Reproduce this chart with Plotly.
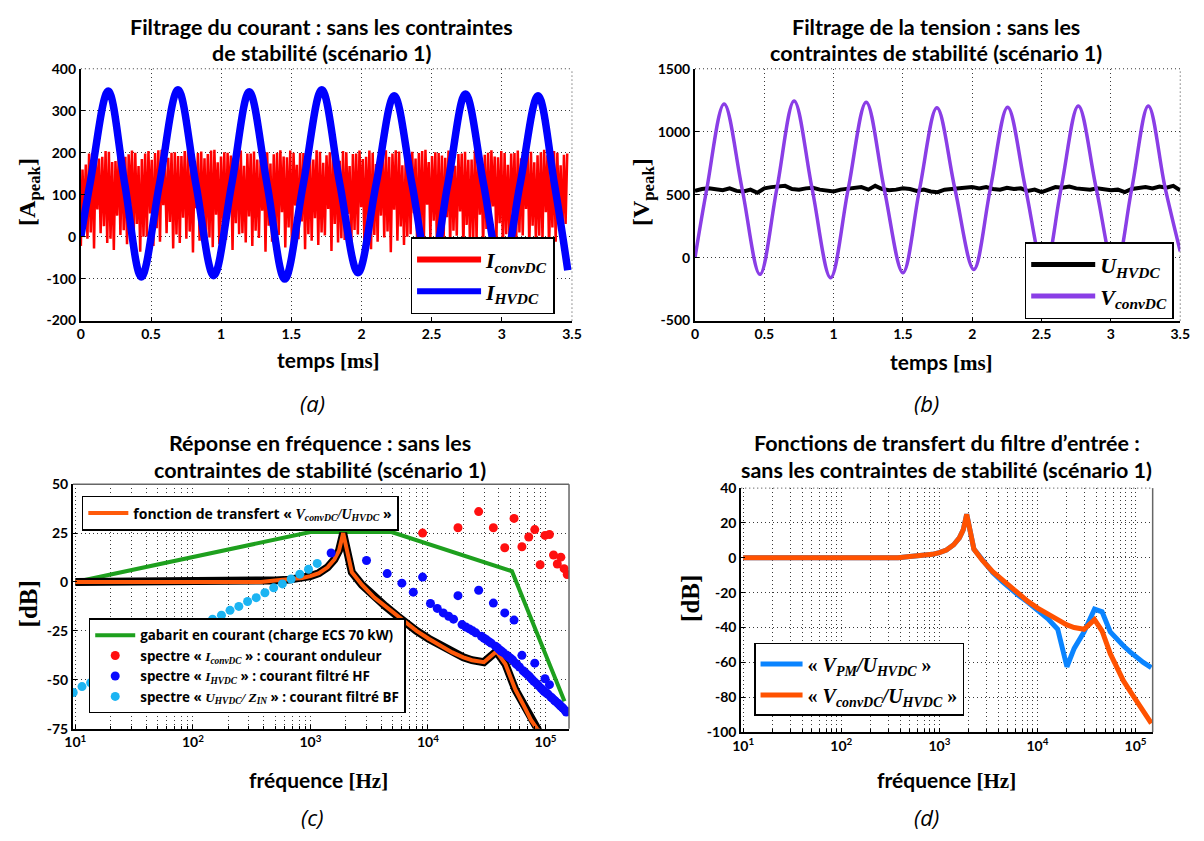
import plotly.graph_objects as go

W, H = 1204, 841

# ---------------- DATA ----------------
# (a) current filtering, time in ms
i_hvdc_t = [0, 0.07, 0.195, 0.313, 0.431, 0.56, 0.692, 0.82, 0.947, 1.075, 1.2, 1.327, 1.453,
            1.585, 1.717, 1.846, 1.975, 2.104, 2.233, 2.36, 2.49, 2.615, 2.741, 2.87, 3.0,
            3.13, 3.258, 3.375, 3.47]
i_hvdc = [0, 135, 347, 125, -96, 125, 350, 125, -93, 125, 345, 125, -101,
          125, 350, 125, -86, 125, 336, 125, -90, 125, 340, 125, -90,
          125, 336, 125, -80]
i_conv_step = 0.047  # ms per switching tooth
i_conv_lo = [-22, -5, -28, 8, -15, -32, 4, -18, -10, -36,
             0, -22, -12, 8, -28, -15, -5, -38, -10, 2,
             -25, -18, -8, -32, 6, -14, -22, -3, -36, -12,
             4, -26, -16, -6, -30, -10, -20, 3, -34, -14,
             -8, -24, 5, -18, -30, -12, -2, -37, -10, -20,
             6, -28, -15, -5, -33, -12, -22, 2, -30, -16,
             -8, -26, 4, -18, -34, -10, -20, 3, -28, -14,
             -6, -36, -12, -5]
i_conv_hi = [160, 198, 205, 190, 202, 180, 206, 196, 200, 185,
             204, 199, 207, 188, 201, 192, 205, 178, 203, 197,
             207, 191, 200, 186, 205, 198, 203, 182, 201, 196,
             206, 189, 200, 199, 205, 184, 202, 194, 207, 181,
             201, 197, 205, 190, 200, 187, 206, 198, 203, 183,
             202, 199, 207, 192, 199, 188, 205, 197, 202, 184,
             201, 195, 206, 189, 199, 198, 205, 186, 202, 194,
             207, 182, 200, 195]
i_conv_dip = [40, 10, 65, 25, -5, 50, 15, 70, 30, 0,
              55, 20, 75, 35, 5, 45, 12, 68, 28, -2,
              52, 18, 72, 32, 8, 48, 14, 62, 26, 2,
              58, 22, 74, 36, 6, 44, 10, 66, 30, -4,
              54, 16, 70, 34, 4, 50, 12, 64, 24, 0,
              56, 20, 76, 38, 8, 46, 14, 60, 28, -3,
              52, 18, 72, 32, 6, 48, 10, 66, 26, 2,
              58, 22, 40, 30]
i_conv_sh = [172, 199, 186, 204, 178, 201, 190, 205, 168, 198,
             183, 206, 175, 200, 192, 204, 170, 199, 187, 205,
             177, 201, 193, 206, 169, 198, 184, 204, 174, 200,
             191, 205, 171, 199, 188, 206, 176, 201, 194, 204,
             168, 198, 185, 205, 173, 200, 190, 206, 170, 199,
             186, 204, 178, 201, 193, 205, 169, 198, 183, 206,
             175, 200, 191, 204, 171, 199, 187, 205, 177, 201,
             194, 204, 170, 198]

# (b) voltage filtering
v_conv_t = [0, 0.085, 0.21, 0.34, 0.468, 0.59, 0.715, 0.845, 0.978, 1.105, 1.235, 1.365, 1.5,
            1.62, 1.745, 1.875, 2.011, 2.13, 2.255, 2.385, 2.52, 2.64, 2.765, 2.895, 3.03,
            3.15, 3.27, 3.39, 3.5]
v_conv = [0, 545, 1220, 545, -133, 545, 1245, 545, -159, 545, 1235, 545, -120,
          545, 1190, 545, -94, 545, 1195, 545, -110, 545, 1205, 545, -110,
          545, 1205, 560, 50]
u_hvdc_step = 0.05
u_hvdc = [530, 545, 550, 540, 535, 550, 530, 525, 540, 515,
          550, 560, 565, 570, 545, 540, 550, 555, 540, 530,
          525, 540, 545, 550, 560, 540, 570, 545, 535, 540,
          550, 545, 530, 540, 525, 520, 540, 545, 550, 555,
          560, 550, 560, 545, 540, 555, 545, 550, 530, 540,
          520, 540, 560, 555, 565, 550, 545, 540, 550, 545,
          535, 540, 520, 545, 555, 560, 550, 565, 555, 570,
          535]

# (c) frequency response
gab_f = [10, 1000, 4900, 51800, 145000]
gab_db = [0, 25.5, 25.5, 5.5, -61]

tf_f = [10, 100, 380, 500, 660, 850, 1000, 1180, 1400, 1600, 1750, 1900, 2250, 2750, 3500,
        4360, 5500, 6400, 8000, 10150, 12800, 16100, 20000, 23700, 29900, 38200, 45600,
        55300, 65000, 75200, 88000, 102000, 120000, 145000]
tf_conv_db = [0, 0, 0, 0.8, 1.2, 2, 3, 4.5, 7.5, 11.5, 16, 25, 5, -1.5, -8,
              -12.5, -17.5, -21, -25, -29, -32.5, -36, -38.5, -40, -41, -35.5, -42,
              -55, -63, -70.5, -76.5, -82, -88.5, -95]
tf_pm_db = [0, 0, 0, 0.8, 1.2, 2, 3, 4.5, 7.5, 11.5, 16, 25, 5, -1.5, -8.5,
            -13.5, -18.5, -21.5, -25.5, -30, -35, -41, -62.5, -52, -42.5, -29.5, -31,
            -42.5, -47, -50.5, -54, -57, -60, -63]

spec_conv_f = [9000, 18000, 27000, 36000, 45000, 54000, 63000, 72000, 81000, 90000,
               99000, 108000, 117000, 126000, 135000, 144000, 153000]
spec_conv_db = [25, 27.7, 36, 27.7, 17.5, 32.5, 18, 23, 26.8, 8.8,
                23.8, 24.3, 13.8, 9.2, 12.7, 6.8, 3.8]

hvdc_main_f = [1500, 3000, 4500, 6000, 7500, 9000, 18000, 27000, 36000, 45000, 54000,
               63000, 81000, 99000, 108000]
hvdc_main_db = [14.8, 11, 4.3, -0.6, -5.2, 2.5, -7, -4.2, -10.8, -15.8, -19.5,
                -37.5, -41.5, -49.5, -52.5]
hvdc_stream_f = [10500, 12000, 13500, 15000, 16500, 19500, 21000, 22500, 24000, 25500,
                 28500, 30000, 31500, 33000, 34500, 37500, 39000, 40500, 42000, 43500,
                 46500, 48000, 49500, 51000, 52500, 55500, 57000, 60000, 64500, 67500,
                 70500, 73500, 76500, 79500, 84000, 87000, 91500, 94500, 97500, 102000,
                 105000, 111000, 114000, 118500, 121500, 127500, 130500, 133500, 138000, 141000,
                 147000, 150000]
hvdc_stream_db = [-11, -13.5, -15.8, -17.5, -19, -21.8, -23, -24, -25, -26,
                  -27.8, -28.8, -29.6, -30.5, -31.3, -32.8, -33.6, -34.6, -35.3, -36,
                  -37.3, -38, -38.7, -39.3, -39.9, -41.5, -42.2, -43.5, -45.4, -46.5,
                  -47.5, -48.5, -49.7, -50.8, -52, -53, -54.3, -55.2, -56, -56.8,
                  -57.4, -58.8, -59.4, -60.4, -61, -62, -62.6, -63.3, -64, -64.6,
                  -65.7, -66.5]

bf_f = [9.6, 11.4, 13.5, 16.0, 19.0, 22.5, 26.7, 31.7, 37.6, 44.6, 52.9, 62.7, 74.4, 88.2,
        104.6, 124, 147, 175, 207, 246, 292, 346, 410, 487, 577, 685, 812, 963, 1142]
bf_db = [-56.5, -53.5, -51.5, -49, -47, -44.5, -42, -40, -37.5, -35.5, -33, -30.5, -28.5, -26,
         -23.5, -21.5, -19, -17, -14.5, -12.5, -10, -8, -5.5, -3, -1, 1.5, 4, 6.5, 9.5]

# tick labels
t_ticks = [0, 0.5, 1, 1.5, 2, 2.5, 3, 3.5]
t_labels = ['0', '0.5', '1', '1.5', '2', '2.5', '3', '3.5']
ia_ticks = [-200, -100, 0, 100, 200, 300, 400]
ia_labels = ['-200', '-100', '0', '100', '200', '300', '400']
vb_ticks = [-500, 0, 500, 1000, 1500]
vb_labels = ['-500', '0', '500', '1000', '1500']
f_ticks = [10, 100, 1000, 10000, 100000]
f_labels = ['10<sup>1</sup>', '10<sup>2</sup>', '10<sup>3</sup>', '10<sup>4</sup>', '10<sup>5</sup>']
dbc_ticks = [-75, -50, -25, 0, 25, 50]
dbc_labels = ['-75', '-50', '-25', '0', '25', '50']
dbd_ticks = [-100, -80, -60, -40, -20, 0, 20, 40]
dbd_labels = ['-100', '-80', '-60', '-40', '-20', '0', '20', '40']

# ---------------- BUILD ----------------
red_x, red_y = [], []
for k in range(len(i_conv_lo)):
    t0 = k * i_conv_step
    red_x += [t0, t0 + 0.25 * i_conv_step, t0 + 0.5 * i_conv_step, t0 + 0.75 * i_conv_step]
    red_y += [i_conv_lo[k], i_conv_hi[k], i_conv_dip[k], i_conv_sh[k]]
u_t = [k * u_hvdc_step for k in range(len(u_hvdc))]

SANS = 'Lato'
SERIF = 'Liberation Serif'
OSANS = 'Open Sans'
tickfont = dict(family=SANS, size=14, color='black', weight='bold')
GRIDC = '#3a3a3a'
DOTS = '1px,3px'


def dom_x(a, b):
    return [a / W, b / W]


def dom_y(top, bottom):
    return [1 - bottom / H, 1 - top / H]


def lin_axis(domain, rng, vals, texts, anchor):
    return dict(domain=domain, range=rng, tickmode='array', tickvals=vals, ticktext=texts,
                anchor=anchor, showline=True, linecolor='black', linewidth=2,
                ticks='inside', ticklen=4, tickcolor='black', zeroline=False,
                tickfont=tickfont, showgrid=True, gridcolor=GRIDC, griddash=DOTS,
                gridwidth=1, fixedrange=True)


minor_vals = [m * 10 ** e for e in range(0, 6) for m in range(2, 10)]


def log_axis(domain, rng, anchor):
    d = lin_axis(domain, rng, f_ticks, f_labels, anchor)
    d.update(type='log')
    d['minor'] = dict(tickmode='array', tickvals=minor_vals, showgrid=True, gridcolor=GRIDC,
                      griddash=DOTS, gridwidth=1, ticks='inside', ticklen=3, tickcolor='black')
    return d


fig = go.Figure()


def legend_line(name, color, width, legend, group, xa, ya):
    # legend-only sample (thicker line like the reference legend)
    fig.add_trace(go.Scatter(x=[None], y=[None], mode='lines', line=dict(color=color, width=width),
                             name=name, legend=legend, legendgroup=group, xaxis=xa, yaxis=ya,
                             hoverinfo='skip'))


# ---- (a)
fig.add_trace(go.Scatter(x=red_x, y=red_y, mode='lines', line=dict(color='#ff0000', width=2.5),
                         showlegend=False, xaxis='x', yaxis='y'))
fig.add_trace(go.Scatter(x=i_hvdc_t, y=i_hvdc, mode='lines',
                         line=dict(color='#0000ff', width=7.5, shape='spline', smoothing=1.0),
                         showlegend=False, xaxis='x', yaxis='y'))
legend_line('I<sub>convDC</sub>', '#ff0000', 6, 'legend', 'a1', 'x', 'y')
legend_line('I<sub>HVDC</sub>', '#0000ff', 6, 'legend', 'a2', 'x', 'y')
# ---- (b)
fig.add_trace(go.Scatter(x=u_t, y=u_hvdc, mode='lines', line=dict(color='black', width=4),
                         showlegend=False, xaxis='x2', yaxis='y2'))
fig.add_trace(go.Scatter(x=v_conv_t, y=v_conv, mode='lines',
                         line=dict(color='#8a3ee6', width=3.5, shape='spline', smoothing=1.0),
                         showlegend=False, xaxis='x2', yaxis='y2'))
legend_line('U<sub>HVDC</sub>', 'black', 5, 'legend2', 'b1', 'x2', 'y2')
legend_line('V<sub>convDC</sub>', '#8a3ee6', 5, 'legend2', 'b2', 'x2', 'y2')
# ---- (c)
fig.add_trace(go.Scatter(x=gab_f, y=gab_db, mode='lines', line=dict(color='#1ea01e', width=4),
                         name='gabarit en courant (charge ECS 70 kW)', legend='legend4',
                         xaxis='x3', yaxis='y3'))
fig.add_trace(go.Scatter(x=tf_f, y=tf_conv_db, mode='lines', line=dict(color='black', width=8),
                         showlegend=False, xaxis='x3', yaxis='y3', hoverinfo='skip'))
fig.add_trace(go.Scatter(x=tf_f, y=tf_conv_db, mode='lines', line=dict(color='#ff5a0a', width=4),
                         name='fonction de transfert « <span style="font-family:Liberation Serif">'
                              '<i>V<sub>convDC</sub>/U<sub>HVDC</sub></i></span> »',
                         legend='legend3', xaxis='x3', yaxis='y3'))
fig.add_trace(go.Scatter(x=spec_conv_f, y=spec_conv_db, mode='markers',
                         marker=dict(color='#ff1010', size=9, line=dict(width=0)),
                         name='spectre « <span style="font-family:Liberation Serif"><i>I<sub>convDC</sub></i></span> » : courant onduleur',
                         legend='legend4', xaxis='x3', yaxis='y3'))
fig.add_trace(go.Scatter(x=hvdc_main_f + hvdc_stream_f, y=hvdc_main_db + hvdc_stream_db,
                         mode='markers', marker=dict(color='#0a0aff', size=9, line=dict(width=0)),
                         name='spectre « <span style="font-family:Liberation Serif"><i>I<sub>HVDC</sub></i></span> » : courant filtré HF',
                         legend='legend4', xaxis='x3', yaxis='y3'))
fig.add_trace(go.Scatter(x=bf_f, y=bf_db, mode='markers',
                         marker=dict(color='#1cb4f2', size=9, line=dict(width=0)),
                         name='spectre « <span style="font-family:Liberation Serif"><i>U<sub>HVDC</sub>/ Z<sub>IN</sub></i></span> » : courant filtré BF',
                         legend='legend4', xaxis='x3', yaxis='y3'))
# ---- (d)
fig.add_trace(go.Scatter(x=tf_f, y=tf_pm_db, mode='lines', line=dict(color='#0a84ff', width=5),
                         name='« <i>V<sub>PM</sub>/U<sub>HVDC</sub></i> »', legend='legend5',
                         legendgroup='d1', xaxis='x4', yaxis='y4'))
fig.add_trace(go.Scatter(x=tf_f, y=tf_conv_db, mode='lines', line=dict(color='#ff5200', width=5),
                         name='« <i>V<sub>convDC</sub>/U<sub>HVDC</sub></i> »', legend='legend5',
                         legendgroup='d2', xaxis='x4', yaxis='y4'))

# ---- axes
xa = lin_axis(dom_x(73, 572), [0, 3.5], t_ticks, t_labels, 'y')
ya = lin_axis(dom_y(61, 318), [-200, 400], ia_ticks, ia_labels, 'x')
xb = lin_axis(dom_x(697, 1190), [0, 3.5], t_ticks, t_labels, 'y2')
yb = lin_axis(dom_y(61, 318), [-500, 1500], vb_ticks, vb_labels, 'x2')
xc = log_axis(dom_x(65, 569), [0.98, 5.2], 'y3')
yc = lin_axis(dom_y(485, 734.5), [-75, 50], dbc_ticks, dbc_labels, 'x3')
xd = log_axis(dom_x(744, 1162), [0.98, 5.175], 'y4')
yd = lin_axis(dom_y(489, 738), [-100, 40], dbd_ticks, dbd_labels, 'x4')

leg_common = dict(bgcolor='white', bordercolor='black', borderwidth=1.5,
                  xanchor='left', yanchor='top')

fig.update_layout(
    width=W, height=H, autosize=False,
    margin=dict(l=0, r=0, t=0, b=0),
    paper_bgcolor='white', plot_bgcolor='white',
    xaxis=xa, yaxis=ya, xaxis2=xb, yaxis2=yb, xaxis3=xc, yaxis3=yc, xaxis4=xd, yaxis4=yd,
    legend=dict(x=408 / W, y=1 - 233 / H, itemwidth=64, tracegroupgap=0,
                font=dict(family=SERIF, size=22, color='black', weight='bold', style='italic'),
                **leg_common),
    legend2=dict(x=1032 / W, y=1 - 238 / H, itemwidth=64, tracegroupgap=0,
                 font=dict(family=SERIF, size=22, color='black', weight='bold', style='italic'),
                 **leg_common),
    legend3=dict(x=74 / W, y=1 - 497 / H, itemwidth=40,
                 font=dict(family=OSANS, size=14, color='black', weight='bold'),
                 **leg_common),
    legend4=dict(x=81 / W, y=1 - 622 / H, itemwidth=40, tracegroupgap=0,
                 font=dict(family=OSANS, size=13.4, color='black', weight='bold'),
                 **leg_common),
    legend5=dict(x=757 / W, y=1 - 647 / H, itemwidth=42, tracegroupgap=2,
                 font=dict(family=SERIF, size=20, color='black', weight='bold'),
                 **leg_common),
    showlegend=True,
)

# ---- text annotations
def ann(text, x, y, size, family=SANS, weight='bold', style='normal', angle=0):
    fig.add_annotation(text=text, x=x / W, y=1 - y / H, xref='paper', yref='paper',
                       xanchor='center', yanchor='middle', showarrow=False, textangle=angle,
                       font=dict(family=family, size=size, color='black', weight=weight,
                                 style=style))


TS = 21.5
ann('Filtrage du courant : sans les contraintes', 318, 18, TS)
ann('de stabilité (scénario 1)', 318, 45, TS)
ann('Filtrage de la tension : sans les', 942, 18, TS)
ann('contraintes de stabilité (scénario 1)', 942, 45, TS)
ann('Réponse en fréquence : sans les', 316, 443, TS)
ann('contraintes de stabilité (scénario 1)', 316, 471, TS)
ann('Fonctions de transfert du filtre d’entrée :', 953, 443, TS)
ann('sans les contraintes de stabilité (scénario 1)', 953, 471, TS)

xt_t = '<span style="font-family:Lato">temps</span> [ms]'
xt_f = '<span style="font-family:Lato">fréquence</span> [Hz]'
ann(xt_t, 325, 358, 21, family=SERIF)
ann(xt_t, 947, 360, 21, family=SERIF)
ann(xt_f, 314, 787, 21, family=SERIF)
ann(xt_f, 953, 787, 21, family=SERIF)

ann('[A<sub>peak</sub>]', 21, 187, 24, family=SERIF, angle=-90)
ann('[V<sub>peak</sub>]', 644, 187, 24, family=SERIF, angle=-90)
ann('[dB]', 20, 607, 25, family=SERIF, angle=-90)
ann('[dB]', 693, 602, 25, family=SERIF, angle=-90)

ann('(a)', 308, 402, 22, family='Open Sans', weight='normal', style='italic')
ann('(b)', 932, 402, 22, family='Open Sans', weight='normal', style='italic')
ann('(c)', 308, 825, 22, family='Open Sans', weight='normal', style='italic')
ann('(d)', 932, 825, 22, family='Open Sans', weight='normal', style='italic')

# ---- frame edges (top / right)
def edge(xr, yr, side, color, dash, width):
    if side == 'top':
        x0, x1, y0, y1 = 0, 1, 1, 1
    else:
        x0, x1, y0, y1 = 1, 1, 0, 1
    fig.add_shape(type='line', xref=xr + ' domain', yref=yr + ' domain', x0=x0, x1=x1, y0=y0, y1=y1,
                  line=dict(color=color, width=width, dash=dash), layer='above')


edge('x', 'y', 'top', GRIDC, DOTS, 1)
edge('x', 'y', 'right', GRIDC, DOTS, 1)
edge('x2', 'y2', 'top', GRIDC, DOTS, 1)
edge('x2', 'y2', 'right', GRIDC, DOTS, 1)
edge('x3', 'y3', 'top', '#666666', 'solid', 1.5)
edge('x3', 'y3', 'right', '#666666', 'solid', 1.5)
edge('x4', 'y4', 'top', GRIDC, DOTS, 1)
edge('x4', 'y4', 'right', '#666666', 'solid', 1.5)

fig.write_html("out.html", config={'displayModeBar': False},
               post_script="document.body.style.margin='0';document.body.style.overflow='hidden';")
